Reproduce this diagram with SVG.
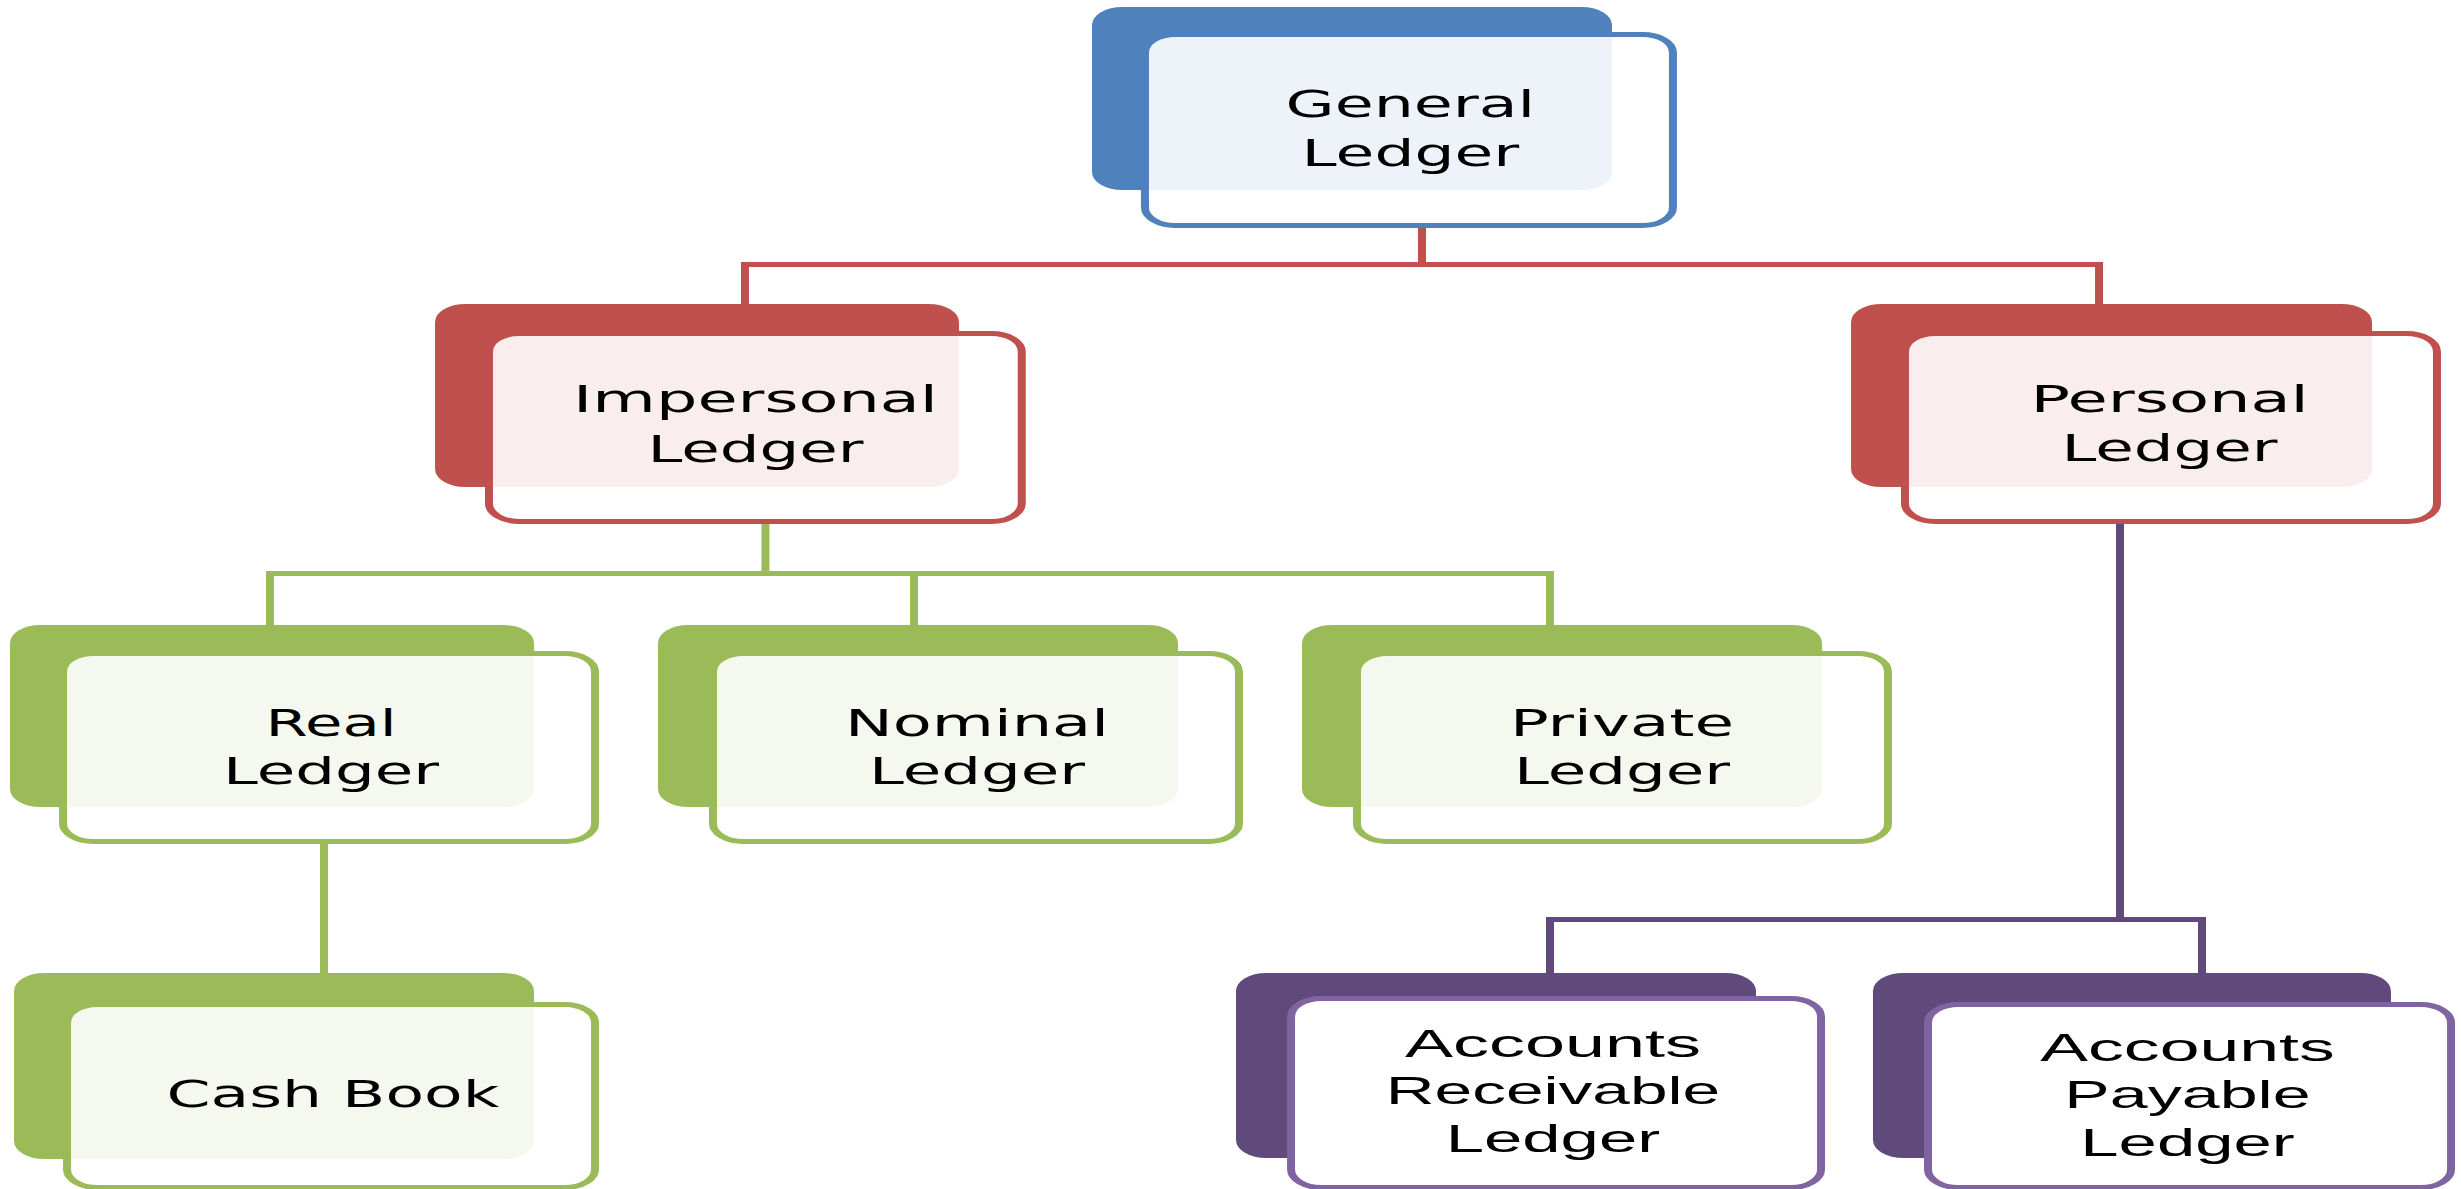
<svg xmlns="http://www.w3.org/2000/svg" width="2461" height="1189" viewBox="0 0 2461 1189">
  <style>
    .back { rx: 19px; ry: 18px; }
    .front { rx: 19px; ry: 18px; stroke-width: 5; fill: #ffffff; fill-opacity: 0.9; }
    .blue .back { fill: #4F81BD; }
    .blue .front { stroke: #4F81BD; }
    .red .back { fill: #C0504D; }
    .red .front { stroke: #C0504D; }
    .green .back { fill: #9BBB59; }
    .green .front { stroke: #9BBB59; }
    .purple .back { fill: #604A7B; }
    .purple .front { stroke: #8064A2; fill-opacity: 1; }
    .lbl { font-family: "DejaVu Sans", Verdana, sans-serif; font-size: 37px; fill: #000000; text-anchor: middle; }
    .lbl2 { font-family: "Liberation Sans", Arial, sans-serif; font-size: 38px; fill: #000000; text-anchor: middle; }
    .conn { fill: none; stroke-width: 5; stroke-linecap: butt; stroke-linejoin: miter; }
  </style>
  <rect width="2461" height="1189" fill="#ffffff"/>
  <!-- drawing is laid out in a horizontally compressed frame, widened by 1.6 -->
  <g transform="scale(1.6 1)">
    <g id="connectors">
      <path class="conn" stroke="#C0504D" d="M888.75 226 V264.5 M465.6 304 V264.5 H1311.9 V304"/>
      <path class="conn" stroke="#9BBB59" d="M478.4 522 V573.5 M168.75 625 V573.5 H968.75 V625 M571.25 573.5 V625 M202.5 842 V973"/>
      <path class="conn" stroke="#604A7B" d="M1325 522 V919.5 M968.75 973 V919.5 H1376.25 V973"/>
    </g>

    <g id="general-ledger" class="blue">
      <rect class="back" x="682.5" y="7" width="325" height="183"/>
      <rect class="front" x="715.6" y="34.5" width="330" height="191"/>
      <text class="lbl" x="881.5" y="117" textLength="156" lengthAdjust="spacingAndGlyphs">General</text>
      <text class="lbl" x="881.5" y="166" textLength="136" lengthAdjust="spacingAndGlyphs">Ledger</text>
    </g>

    <g id="impersonal-ledger" class="red">
      <rect class="back" x="271.9" y="304" width="327.5" height="183"/>
      <rect class="front" x="305.6" y="333.5" width="333" height="188"/>
      <text class="lbl" x="472.2" y="412" textLength="228" lengthAdjust="spacingAndGlyphs">Impersonal</text>
      <text class="lbl" x="472.2" y="462" textLength="135" lengthAdjust="spacingAndGlyphs">Ledger</text>
    </g>

    <g id="personal-ledger" class="red">
      <rect class="back" x="1156.9" y="304" width="325.6" height="183"/>
      <rect class="front" x="1190.6" y="333.5" width="332.5" height="188"/>
      <text class="lbl" x="1356" y="412" textLength="174" lengthAdjust="spacingAndGlyphs">Personal</text>
      <text class="lbl" x="1356" y="461" textLength="135" lengthAdjust="spacingAndGlyphs">Ledger</text>
    </g>

    <g id="real-ledger" class="green">
      <rect class="back" x="6.25" y="625" width="327.5" height="182"/>
      <rect class="front" x="39.4" y="653.5" width="332.5" height="188"/>
      <text class="lbl" x="206.9" y="736" textLength="82" lengthAdjust="spacingAndGlyphs">Real</text>
      <text class="lbl" x="206.9" y="784" textLength="135" lengthAdjust="spacingAndGlyphs">Ledger</text>
    </g>

    <g id="nominal-ledger" class="green">
      <rect class="back" x="411.25" y="625" width="325" height="182"/>
      <rect class="front" x="445.6" y="653.5" width="328.75" height="188"/>
      <text class="lbl" x="610.6" y="736" textLength="165" lengthAdjust="spacingAndGlyphs">Nominal</text>
      <text class="lbl" x="610.6" y="784" textLength="135" lengthAdjust="spacingAndGlyphs">Ledger</text>
    </g>

    <g id="private-ledger" class="green">
      <rect class="back" x="813.75" y="625" width="325" height="182"/>
      <rect class="front" x="848.1" y="653.5" width="331.9" height="188"/>
      <text class="lbl" x="1013.75" y="736" textLength="140" lengthAdjust="spacingAndGlyphs">Private</text>
      <text class="lbl" x="1013.75" y="784" textLength="135" lengthAdjust="spacingAndGlyphs">Ledger</text>
    </g>

    <g id="cash-book" class="green">
      <rect class="back" x="8.75" y="973" width="325" height="186"/>
      <rect class="front" x="41.9" y="1004.5" width="330" height="183"/>
      <text class="lbl" x="208" y="1107" textLength="208" lengthAdjust="spacingAndGlyphs">Cash Book</text>
    </g>

    <g id="accounts-receivable-ledger" class="purple">
      <rect class="back" x="772.5" y="973" width="325" height="185"/>
      <rect class="front" x="806.9" y="998.5" width="331.25" height="189"/>
      <text class="lbl2" x="970.6" y="1057" textLength="185" lengthAdjust="spacingAndGlyphs">Accounts</text>
      <text class="lbl2" x="970.6" y="1104" textLength="209" lengthAdjust="spacingAndGlyphs">Receivable</text>
      <text class="lbl2" x="970.6" y="1152" textLength="134" lengthAdjust="spacingAndGlyphs">Ledger</text>
    </g>

    <g id="accounts-payable-ledger" class="purple">
      <rect class="back" x="1170.6" y="973" width="323.75" height="185"/>
      <rect class="front" x="1205" y="1004.5" width="326.9" height="183"/>
      <text class="lbl2" x="1367.2" y="1061" textLength="184" lengthAdjust="spacingAndGlyphs">Accounts</text>
      <text class="lbl2" x="1367.2" y="1108" textLength="154" lengthAdjust="spacingAndGlyphs">Payable</text>
      <text class="lbl2" x="1367.2" y="1156" textLength="134" lengthAdjust="spacingAndGlyphs">Ledger</text>
    </g>
  </g>
</svg>
